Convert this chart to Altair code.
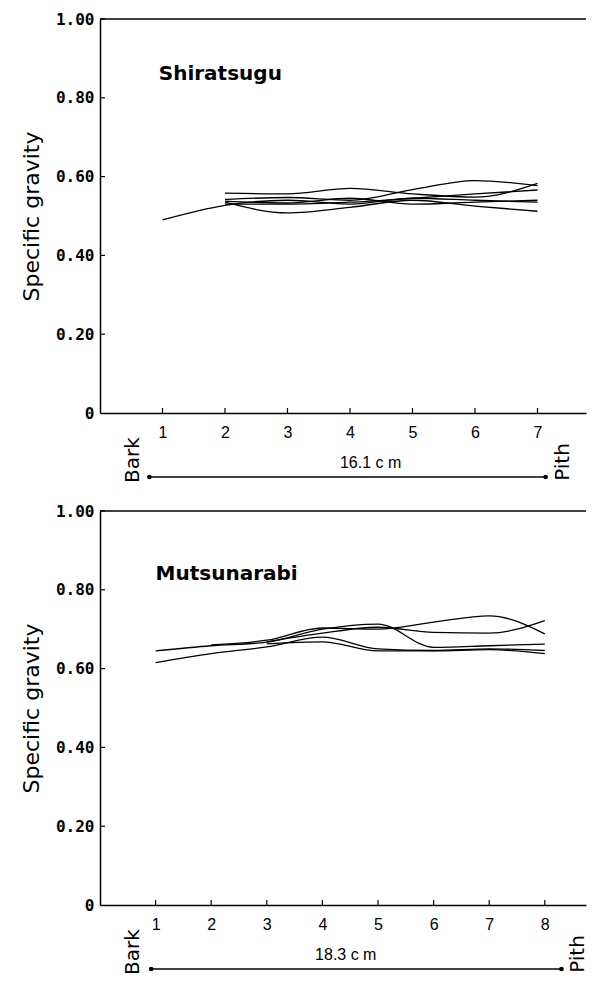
import altair as alt
import pandas as pd

# ---------------- data ----------------
y_ticks = [0, 0.2, 0.4, 0.6, 0.8, 1.0]

top_positions = [1, 2, 3, 4, 5, 6, 7]
top_series = {
    "S1": [0.490, 0.527, 0.540, 0.530, 0.545, 0.540, 0.535],
    "S2": [None, 0.558, 0.556, 0.570, 0.556, 0.548, 0.583],
    "S3": [None, 0.542, 0.547, 0.540, 0.567, 0.590, 0.577],
    "S4": [None, 0.535, 0.508, 0.522, 0.540, 0.525, 0.512],
    "S5": [None, 0.530, 0.530, 0.535, 0.545, 0.556, 0.566],
    "S6": [None, 0.538, 0.533, 0.545, 0.530, 0.535, 0.540],
}

bottom_positions = [1, 2, 3, 4, 5, 6, 7, 8]
bottom_series = {
    "B1": [0.645, 0.658, 0.667, 0.700, 0.713, 0.654, 0.658, 0.662],
    "B2": [0.615, 0.638, 0.655, 0.680, 0.650, 0.646, 0.650, 0.646],
    "B3": [None, 0.660, 0.672, 0.703, 0.700, 0.718, 0.734, 0.688],
    "B4": [None, None, 0.668, 0.690, 0.705, 0.692, 0.690, 0.722],
    "B5": [None, None, 0.663, 0.668, 0.645, 0.645, 0.648, 0.638],
}

W = 486
H = 394


def to_long(positions, series):
    rows = []
    for name, vals in series.items():
        for p, v in zip(positions, vals):
            if v is not None:
                rows.append({"pos": p, "sg": v, "series": name})
    return pd.DataFrame(rows)


def panel(positions, series, xmax, title, title_xy, dist_label, dist_x,
          bark_x, pith_x, line_x):
    df = to_long(positions, series)
    one = pd.DataFrame({"k": [0]})
    xs = alt.Scale(domain=[0, xmax], nice=False, zero=False)
    ys = alt.Scale(domain=[0, 1], nice=False, zero=False)

    lines = alt.Chart(df).mark_line(
        color="black", strokeWidth=1.3, interpolate="monotone"
    ).encode(
        x=alt.X("pos:Q", scale=xs, axis=alt.Axis(
            values=positions, format="d", title=None, ticks=False,
            labelFont="Liberation Sans", labelFontSize=16, labelPadding=11,
            labelColor="black", domainColor="black", domainWidth=1.5, grid=False)),
        y=alt.Y("sg:Q", scale=ys, axis=alt.Axis(
            values=y_ticks, title="Specific gravity", ticks=False,
            labelExpr="datum.value == 0 ? '0' : format(datum.value, '.2f')",
            labelFont="DejaVu Sans Mono", labelFontWeight="bold",
            labelFontSize=16, labelPadding=6, labelColor="black",
            titleFont="DejaVu Sans", titleFontSize=22, titleFontWeight="normal",
            titleColor="black", titlePadding=12,
            domainColor="black", domainWidth=1.5, grid=False)),
        detail="series:N",
    )

    xt = alt.Chart(pd.DataFrame({"pos": positions})).mark_rule(
        color="black", strokeWidth=1.2, y2Offset=-5
    ).encode(x="pos:Q", y=alt.datum(0), y2=alt.datum(0))

    yt = alt.Chart(pd.DataFrame({"sg": y_ticks[1:]})).mark_rule(
        color="black", strokeWidth=1.2, x2Offset=5
    ).encode(y="sg:Q", x=alt.datum(0), x2=alt.datum(0))

    top_border = alt.Chart(one).mark_rule(color="black", strokeWidth=1.5).encode(
        x=alt.datum(0), x2=alt.datum(xmax), y=alt.datum(1.0))

    ttl = alt.Chart(one).mark_text(
        text=title, font="DejaVu Sans", fontWeight="bold", fontSize=20,
        align="left", baseline="middle", color="black"
    ).encode(x=alt.datum(title_xy[0]), y=alt.datum(title_xy[1]))

    dist = alt.Chart(one).mark_text(
        text=dist_label, font="Liberation Sans", fontSize=16,
        align="center", baseline="middle", color="black"
    ).encode(x=alt.datum(dist_x), y=alt.value(H + 50))

    bark = alt.Chart(one).mark_text(
        text="Bark", font="DejaVu Sans", fontSize=20, angle=270,
        align="center", baseline="middle", color="black"
    ).encode(x=alt.datum(bark_x), y=alt.value(H + 47))

    pith = alt.Chart(one).mark_text(
        text="Pith", font="DejaVu Sans", fontSize=20, angle=270,
        align="center", baseline="middle", color="black"
    ).encode(x=alt.datum(pith_x), y=alt.value(H + 49))

    dline = alt.Chart(one).mark_rule(color="black", strokeWidth=1.6).encode(
        x=alt.datum(line_x[0]), x2=alt.datum(line_x[1]), y=alt.value(H + 64))

    dots = alt.Chart(pd.DataFrame({"pos": line_x})).mark_point(
        filled=True, color="black", size=22, opacity=1
    ).encode(x="pos:Q", y=alt.value(H + 64))

    return alt.layer(lines, xt, yt, top_border, ttl, dist, bark, pith, dline, dots
                     ).properties(width=W, height=H)


top = panel(top_positions, top_series, W / 62.5, "Shiratsugu", (0.94, 0.86),
            "16.1 c m", 4.33, 0.52, 7.4, [0.79, 7.13])
bottom = panel(bottom_positions, bottom_series, W / 55.6, "Mutsunarabi", (1.0, 0.84),
               "18.3 c m", 4.42, 0.6, 8.6, [0.92, 8.3])

chart = alt.vconcat(top, bottom, spacing=20).properties(
    padding={"left": 12, "top": 3, "right": 0, "bottom": 0}
).configure_view(stroke=None)

chart.save("out.html", embed_options={"renderer": "svg", "actions": False})
